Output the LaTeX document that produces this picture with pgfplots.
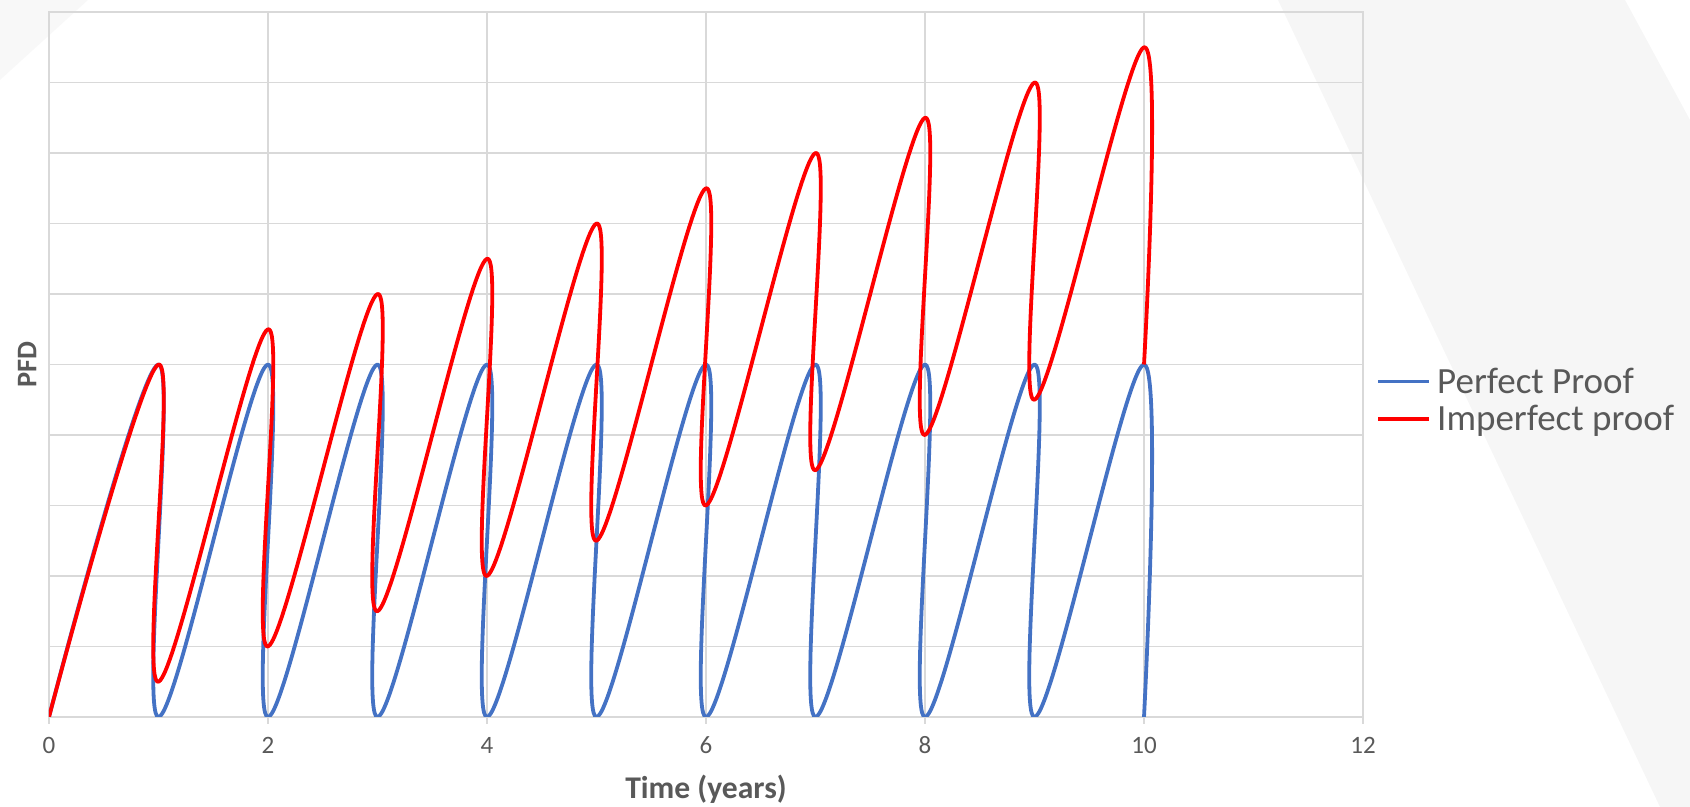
\documentclass[border=0pt]{standalone}
\usepackage{pgfplots}
\pgfplotsset{compat=1.18}
\usepackage{fontspec}
\setmainfont{Carlito}
\definecolor{perfblue}{HTML}{4472C4}
\definecolor{imperfred}{HTML}{FF0000}
\definecolor{gridgray}{HTML}{D9D9D9}
\definecolor{txtgray}{HTML}{595959}
\definecolor{bggray}{HTML}{F6F6F6}
\begin{document}
\begin{tikzpicture}
% page = 1690 x 807 px of the reference, 1px = 0.5pt, origin at the axis corner
\useasboundingbox (-24.5pt,-45pt) rectangle (820.5pt,358.5pt);
\begin{scope}[shift={(-24.5pt,358.5pt)},x=0.5pt,y=-0.5pt]
  \fill[bggray] (1278,0) -- (1625,0) -- (1690,120) -- (1690,807) -- (1660,807) -- cycle;
  \fill[bggray!80!white] (0,0) -- (88,0) -- (0,80) -- cycle;
\end{scope}
\begin{axis}[
    scale only axis,
    width=657pt, height=352.5pt,
    xmin=0, xmax=12, ymin=0, ymax=10,
    xtick={0,2,...,12},
    ytick={0,1,...,10}, yticklabels={},
    grid=major,
    grid style={gridgray, line width=0.75pt},
    axis line style={gridgray, line width=0.75pt},
    xtick pos=left, tick align=outside, major tick length=3.5pt,
    xtick style={gridgray, line width=0.75pt},
    ytick style={draw=none},
    /pgf/number format/assume math mode=true,
    tick label style={font=\fontsize{12.5}{15}\selectfont, text=txtgray},
    xticklabel style={anchor=base, yshift=-15pt},
    xlabel={Time (years)},
    ylabel={PFD},
    label style={text=txtgray},
    xlabel style={font=\bfseries\fontsize{15.8}{19}\selectfont,
        at={(axis description cs:0.5,-0.103)}, anchor=center},
    ylabel style={font=\bfseries\fontsize{14.2}{17}\selectfont,
        at={(axis description cs:-0.0167,0.5)}, anchor=center},
    legend cell align=left,
    legend image code/.code={\draw[#1] (0pt,0pt) -- (25.5pt,0pt);},
    legend style={at={(axis description cs:1.0099,0.4493)}, anchor=west,
        draw=none, fill=none, inner sep=0pt,
        font=\fontsize{18.5}{22}\selectfont, text=txtgray,
        row sep=7.05pt, column sep=3pt,
        nodes={inner sep=0pt, text height=11.7pt, text depth=0pt}},
]
\addplot[perfblue, line width=1.9pt, line join=round, smooth, tension=0.6] coordinates {
    (0,0) (1,5) (1,0) (2,5) (2,0) (3,5) (3,0) (4,5) (4,0) (5,5) (5,0)
    (6,5) (6,0) (7,5) (7,0) (8,5) (8,0) (9,5) (9,0) (10,5) (10,0)
};
\addplot[imperfred, line width=1.9pt, line join=round, smooth, tension=0.6] coordinates {
    (0,0) (1,5) (1,0.5) (2,5.5) (2,1) (3,6) (3,1.5) (4,6.5) (4,2) (5,7) (5,2.5)
    (6,7.5) (6,3) (7,8) (7,3.5) (8,8.5) (8,4) (9,9) (9,4.5) (10,9.5) (10,5)
};
\legend{Perfect Proof, Imperfect proof}
\end{axis}
\end{tikzpicture}
\end{document}
